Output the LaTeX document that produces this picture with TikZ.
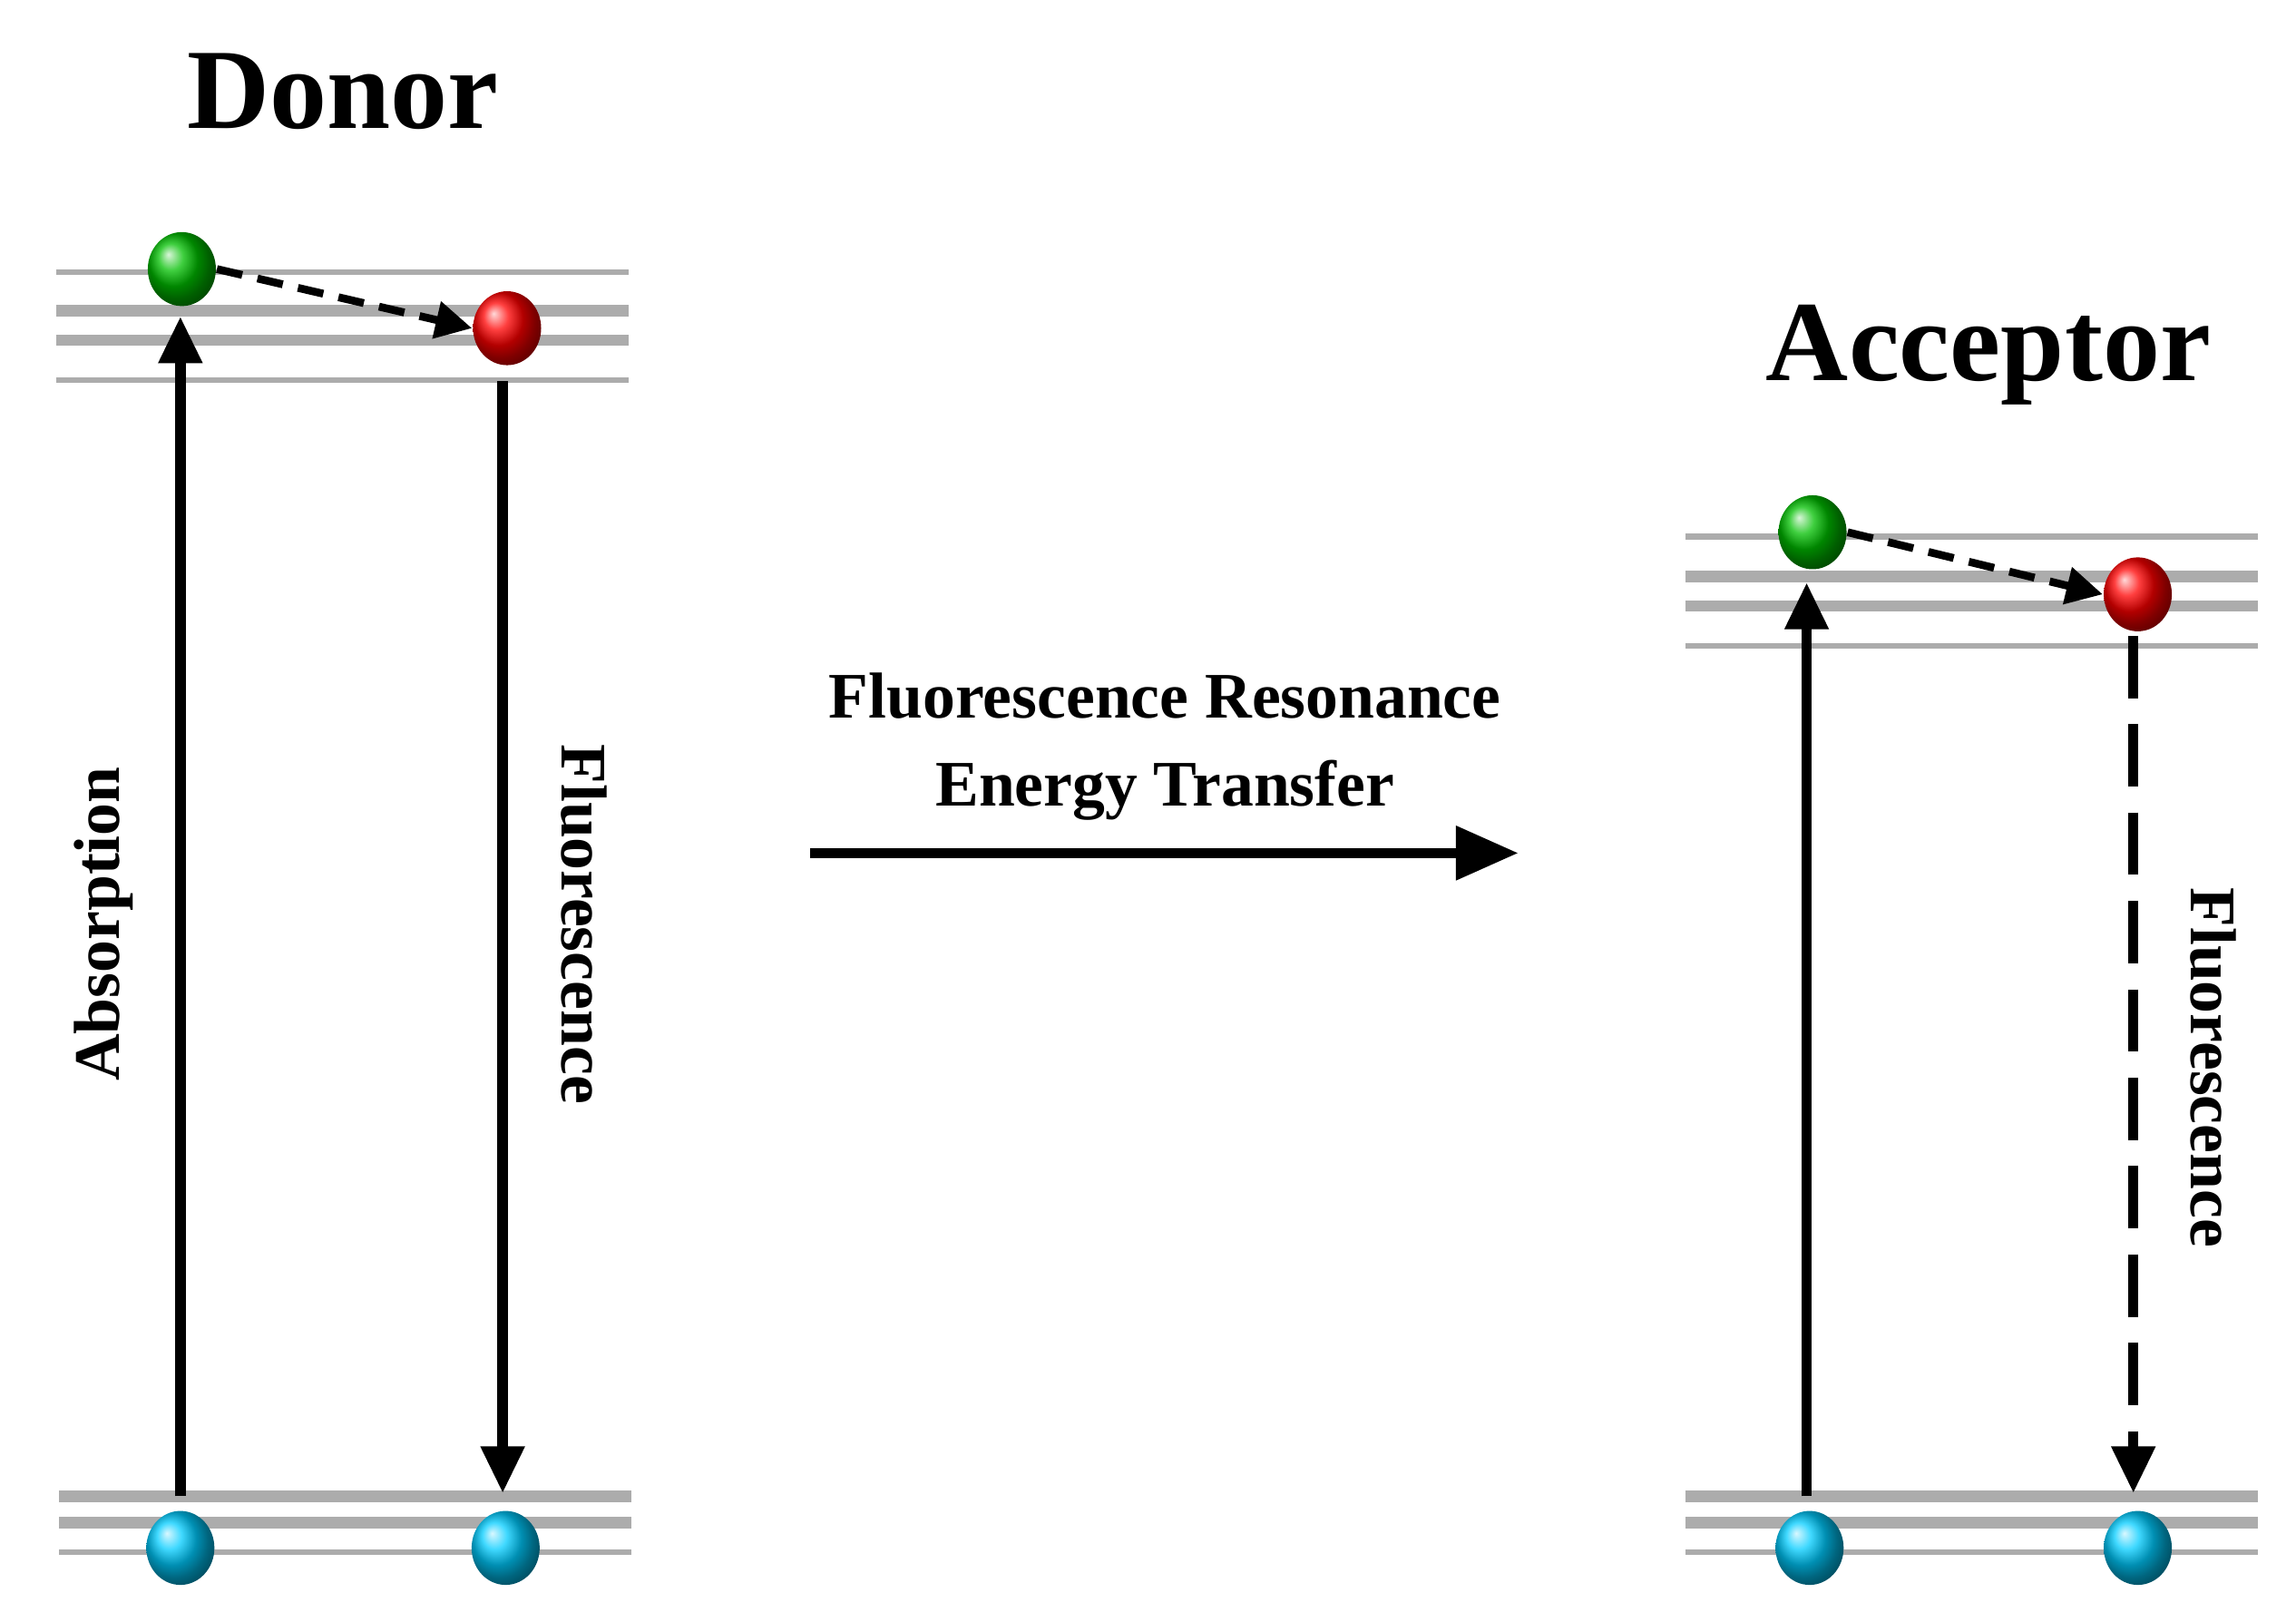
\documentclass[tikz,border=0pt]{standalone}
\usepackage{fontspec}
\setmainfont{Liberation Serif}
\usetikzlibrary{arrows.meta,shapes.geometric}
\begin{document}
\begin{tikzpicture}[x=0.01cm,y=-0.01cm,
  thin lvl/.style={gray!65,line width=1.1pt},
  thick lvl/.style={gray!65,line width=2.2pt},
  ball/.style={ellipse,minimum width=46\pgflinewidth*0+0.46cm,minimum height=0.5cm,inner sep=0pt},
  gball/.style={ball,ball color=green!75!black},
  rball/.style={ball,ball color=red},
  bball/.style={ball,ball color=cyan!80!blue},
  arr/.style={line width=2pt,-{Triangle[length=9pt,width=8pt]}},
  darr/.style={line width=1.5pt,dash pattern=on 5pt off 3pt,-{Triangle[length=7pt,width=7pt]}},
  title/.style={font=\bfseries\fontsize{22}{26}\selectfont},
  lab/.style={font=\bfseries\fontsize{12.5}{15}\selectfont}]
\useasboundingbox (0,0) rectangle (1553,1097);
% Donor
\node[title] (dt) at (232,62) {Donor};
\draw[thin lvl] (38,184) -- (425,184);
\draw[thick lvl] (38,210) -- (425,210);
\draw[thick lvl] (38,230) -- (425,230);
\draw[thin lvl] (38,257) -- (425,257);
\draw[thick lvl] (40,1012) -- (427,1012);
\draw[thick lvl] (40,1030) -- (427,1030);
\draw[thin lvl] (40,1050) -- (427,1050);
\node[gball] (dg) at (123,182) {};
\node[rball] (dr) at (343,222) {};
\node[bball] (db1) at (122,1047) {};
\node[bball] (db2) at (342,1047) {};
\coordinate (da0) at (122,1012);
\coordinate (da1) at (122,214);
\coordinate (df0) at (340,258);
\coordinate (df1) at (340,1010);
\draw[arr] (da0) -- (da1);
\draw[arr] (df0) -- (df1);
\draw[darr] (dg.east) -- (dr.west);
\node[lab,rotate=90] (dabs) at (70,625) {Absorption};
\node[lab,rotate=-90] (dfl) at (395,625) {Fluorescence};
% Middle
\node[lab,align=center] (mt) at (788,505) {Fluorescence Resonance\\[2pt]Energy Transfer};
\coordinate (m0) at (548,577);
\coordinate (m1) at (1027,577);
\draw[arr,-{Triangle[length=12pt,width=10pt]}] (m0) -- (m1);
% Acceptor
\node[title] (at) at (1345,240) {Acceptor};
\draw[thin lvl] (1140,363) -- (1527,363);
\draw[thick lvl] (1140,390) -- (1527,390);
\draw[thick lvl] (1140,410) -- (1527,410);
\draw[thin lvl] (1140,437) -- (1527,437);
\draw[thick lvl] (1140,1012) -- (1527,1012);
\draw[thick lvl] (1140,1030) -- (1527,1030);
\draw[thin lvl] (1140,1050) -- (1527,1050);
\node[gball] (ag) at (1226,360) {};
\node[rball] (ar) at (1446,402) {};
\node[bball] (ab1) at (1224,1047) {};
\node[bball] (ab2) at (1446,1047) {};
\coordinate (aa0) at (1222,1012);
\coordinate (aa1) at (1222,394);
\coordinate (af0) at (1443,430);
\coordinate (af1) at (1443,1010);
\draw[arr] (aa0) -- (aa1);
\draw[arr,dash pattern=on 12pt off 5pt] (af0) -- (af1);
\draw[darr] (ag.east) -- (ar.west);
\node[lab,rotate=-90] (afl) at (1497,722) {Fluorescence};
\end{tikzpicture}
\end{document}
